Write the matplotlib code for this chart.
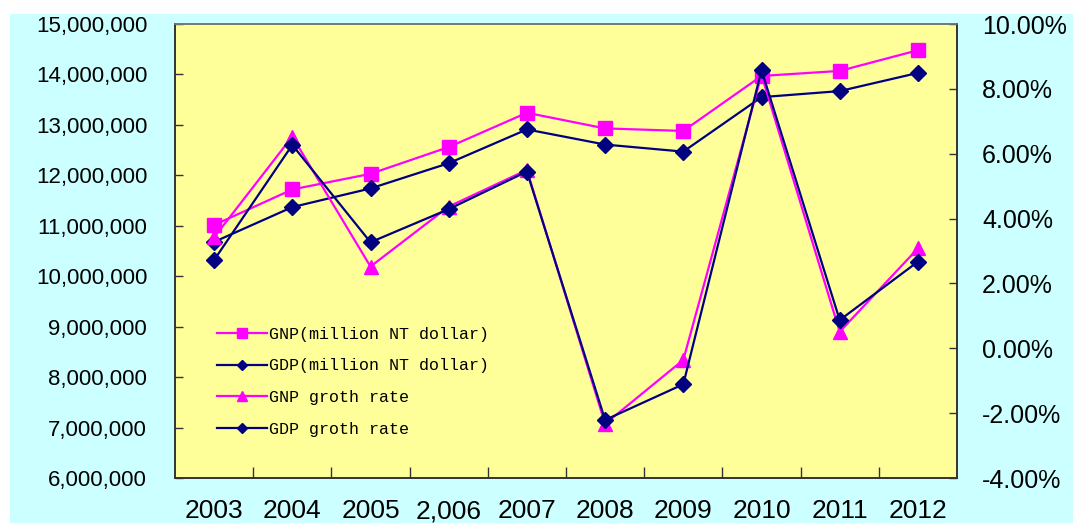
import numpy as np
import matplotlib
matplotlib.use("Agg")
import matplotlib.pyplot as plt
from matplotlib.patches import Rectangle
from matplotlib.ticker import FuncFormatter, FixedLocator

# Data
years = ["2003", "2004", "2005", "2,006", "2007", "2008", "2009", "2010", "2011", "2012"]
gnp = [11015000, 11720000, 12030000, 12560000, 13240000, 12930000, 12880000, 13970000, 14070000, 14480000]
gdp = [10680000, 11370000, 11740000, 12240000, 12910000, 12610000, 12470000, 13550000, 13670000, 14030000]
gnp_rate = [3.42, 6.53, 2.52, 4.37, 5.50, -2.33, -0.36, 8.43, 0.51, 3.08]
gdp_rate = [2.72, 6.27, 3.27, 4.29, 5.45, -2.21, -1.11, 8.58, 0.87, 2.67]

left_ticks = np.arange(6000000, 15000001, 1000000)
right_ticks = np.arange(-4, 10.01, 2)

MAGENTA = "#FF00FF"
NAVY = "#000080"

fig = plt.figure(figsize=(10.75, 5.23), dpi=100)
fig.patch.set_facecolor("white")
# cyan chart area behind everything
fig.patches.append(Rectangle((10 / 1075, 0), 1063 / 1075, 509 / 523,
                             transform=fig.transFigure, facecolor="#CCFFFF",
                             edgecolor="none", zorder=-10))

ax = fig.add_axes([175 / 1075, 1 - 478 / 523, 782 / 1075, 454 / 523])
ax.set_facecolor("#FFFF99")
ax2 = ax.twinx()

x = np.arange(len(years))

l1, = ax.plot(x, gnp, color=MAGENTA, lw=1.6, marker="s", ms=10, label="GNP(million NT dollar)")
l2, = ax.plot(x, gdp, color=NAVY, lw=1.6, marker="D", ms=8, label="GDP(million NT dollar)")
l3, = ax2.plot(x, gnp_rate, color=MAGENTA, lw=1.6, marker="^", ms=10, label="GNP groth rate")
l4, = ax2.plot(x, gdp_rate, color=NAVY, lw=1.6, marker="D", ms=8, label="GDP groth rate")

ax.set_xlim(-0.5, len(years) - 0.5)
ax.set_ylim(6000000, 15000000)
ax2.set_ylim(-4, 10)

ax.set_yticks(left_ticks)
ax.yaxis.set_major_formatter(FuncFormatter(lambda v, p: f"{int(v):,}"))
ax2.set_yticks(right_ticks)
ax2.yaxis.set_major_formatter(FuncFormatter(lambda v, p: f"{v:.2f}%"))

# category labels in the middle, ticks at the boundaries
ax.set_xticks(x)
ax.set_xticklabels(years, va="baseline")
ax.xaxis.set_minor_locator(FixedLocator(np.arange(0.5, len(years) - 1, 1)))
ax.tick_params(axis="x", which="major", length=0, pad=29,
               labelsize=19, labelfontfamily="Liberation Sans")
ax.tick_params(axis="x", which="minor", direction="in", length=8, width=1, color="#333333")
ax.tick_params(axis="y", direction="in", length=6, width=1, color="#333333",
               labelsize=16, labelfontfamily="Liberation Sans", pad=20)
ax2.tick_params(axis="y", direction="in", length=6, width=1, color="#333333",
                labelsize=18, labelfontfamily="Liberation Sans", pad=18)

for a in (ax, ax2):
    for s in a.spines.values():
        s.set_color("#333333")
        s.set_linewidth(1.2)
    a.spines["top"].set_color("#777777")

leg = ax2.legend(handles=[l1, l2, l3, l4], loc="upper left",
                 bbox_to_anchor=(0.045, 0.348), frameon=False,
                 prop={"family": "Liberation Mono", "size": 12},
                 handlelength=3.0, handletextpad=0.15, labelspacing=1.0,
                 markerscale=0.7, borderaxespad=0)

fig.savefig("out.png", dpi=100, facecolor=fig.get_facecolor())
